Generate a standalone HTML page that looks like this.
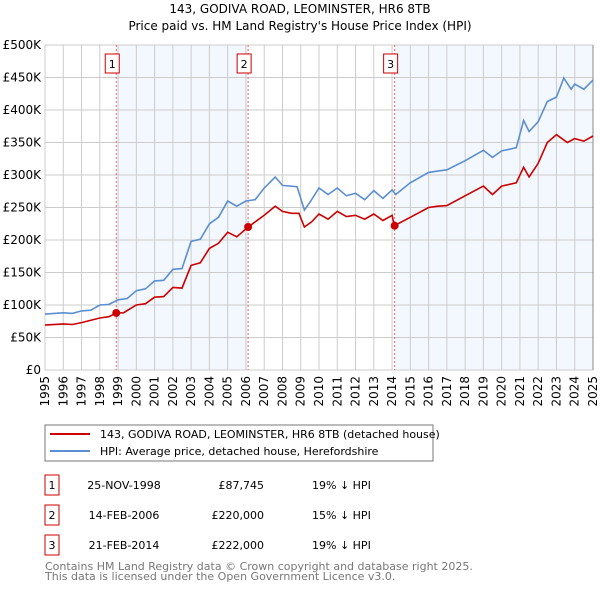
<!DOCTYPE html>
<html><head><meta charset="utf-8"><style>
body{margin:0;background:#fff;font-family:"DejaVu Sans","Liberation Sans",sans-serif;}
svg text{font-family:"DejaVu Sans","Liberation Sans",sans-serif;}
</style></head><body>
<svg id="c" width="600" height="590" viewBox="0 0 600 590" xmlns="http://www.w3.org/2000/svg">
<text x="300" y="13" text-anchor="middle" font-size="12">143, GODIVA ROAD, LEOMINSTER, HR6 8TB</text>
<text x="300" y="30" text-anchor="middle" font-size="12">Price paid vs. HM Land Registry's House Price Index (HPI)</text>
<g id="plot"></g>
<rect x="45" y="425" width="388" height="36" fill="#fff" stroke="#777"/>
<line x1="50" y1="434" x2="90" y2="434" stroke="#cc0000" stroke-width="2"/>
<text x="100" y="438" font-size="11">143, GODIVA ROAD, LEOMINSTER, HR6 8TB (detached house)</text>
<line x1="50" y1="451" x2="90" y2="451" stroke="#5b8fd1" stroke-width="2"/>
<text x="100" y="455" font-size="11">HPI: Average price, detached house, Herefordshire</text>
<g id="tbl" font-size="11"></g>
<text x="45" y="570" font-size="11" fill="#777">Contains HM Land Registry data © Crown copyright and database right 2025.</text>
<text x="45" y="580" font-size="11" fill="#777">This data is licensed under the Open Government Licence v3.0.</text>
</svg>
<script>
const yTicks=[0,50,100,150,200,250,300,350,400,450,500];
const yTickLabels=["£0","£50K","£100K","£150K","£200K","£250K","£300K","£350K","£400K","£450K","£500K"];
const xYears=[1995,1996,1997,1998,1999,2000,2001,2002,2003,2004,2005,2006,2007,2008,2009,2010,2011,2012,2013,2014,2015,2016,2017,2018,2019,2020,2021,2022,2023,2024,2025];
const hpiYears=[1995,1996,1996.5,1997,1997.5,1998,1998.5,1999,1999.5,2000,2000.5,2001,2001.5,2002,2002.5,2003,2003.5,2004,2004.5,2005,2005.5,2006,2006.5,2007,2007.6,2008,2008.8,2009.2,2009.5,2010,2010.5,2011,2011.5,2012,2012.5,2013,2013.5,2014,2014.2,2015,2016,2016.5,2017,2018,2019,2019.5,2020,2020.8,2021.2,2021.5,2022,2022.5,2023,2023.4,2023.8,2024,2024.5,2025];
const hpiValues=[86,88,87,91,92,100,101,108,110,122,125,137,138,155,156,198,201,225,235,260,252,260,262,280,297,284,282,246,258,280,270,280,268,272,262,276,264,277,270,288,304,306,308,322,338,327,337,342,384,367,382,413,420,449,432,440,432,446];
const priceYears=[1995,1996,1996.5,1997,1998,1998.5,1998.9,1999.3,2000,2000.5,2001,2001.5,2002,2002.5,2003,2003.5,2004,2004.5,2005,2005.5,2006.12,2007,2007.6,2008,2008.5,2008.9,2009.2,2009.6,2010,2010.5,2011,2011.5,2012,2012.5,2013,2013.5,2014,2014.13,2015,2016,2016.5,2017,2018,2019,2019.5,2020,2020.8,2021.2,2021.5,2022,2022.5,2023,2023.6,2024,2024.5,2025];
const priceValues=[69,71,70,73,80,82,87.745,88,100,102,112,113,127,126,161,165,187,195,212,205,220,238,252,244,241,241,220,228,240,232,244,236,238,232,240,230,238,222,235,250,252,253,268,283,270,283,288,312,297,318,350,362,350,356,352,360];
const salesX=[1998.9,2006.12,2014.14];
const salesV=[87.745,220,222];
const salesLabels=["1","2","3"];
const salesDates=["25-NOV-1998","14-FEB-2006","21-FEB-2014"];
const salesPrices=["£87,745","£220,000","£222,000"];
const salesDiff=["19% ↓ HPI","15% ↓ HPI","19% ↓ HPI"];

const NS="http://www.w3.org/2000/svg";
const X0=45,X1=593,Y0=370,Y1=45;
const xs=y=>X0+(y-1995)/30*(X1-X0);
const ys=v=>Y0-v/500*(Y0-Y1);
const plot=document.getElementById('plot');
function mk(t,a,p){const e=document.createElementNS(NS,t);for(const k in a)e.setAttribute(k,a[k]);(p||plot).appendChild(e);return e;}
let e;
e=mk('rect',{x:xs(salesX[0]),y:Y1,width:xs(salesX[1])-xs(salesX[0]),height:Y0-Y1,fill:'#eef3fd',opacity:0.7});


e=mk('rect',{x:xs(salesX[2]),y:Y1,width:X1-xs(salesX[2]),height:Y0-Y1,fill:'#eef3fd',opacity:0.7});


yTicks.forEach((v,i)=>{
 e=mk('line',{x1:X0,x2:X1,y1:ys(v),y2:ys(v),stroke:'#ccc'});
 
 
 e=mk('text',{x:X0-4,y:ys(v)+4,'text-anchor':'end','font-size':12});
 e.textContent=yTickLabels[i];
 
 
});
xYears.forEach(y=>{
 e=mk('line',{x1:xs(y),x2:xs(y),y1:Y1,y2:Y0,stroke:'#ccc'});
 
 
 e=mk('text',{x:0,y:0,'font-size':12,'text-anchor':'end',transform:`translate(${xs(y)+4},${Y0+6}) rotate(-90)`});
 e.textContent=y;
 
 
});
e=mk('line',{x1:X1,x2:X1,y1:Y1,y2:Y0,stroke:'#888'});


salesX.forEach((x,i)=>{
 e=mk('line',{x1:xs(x),x2:xs(x),y1:Y1,y2:Y0,stroke:'#ee6666','stroke-dasharray':'2,2'});
 
 
 e=mk('rect',{x:xs(x)-11,y:54,width:14,height:19,fill:'#fff',stroke:'#cc0000'});
 
 
 e=mk('text',{x:xs(x)-4,y:68,'text-anchor':'middle','font-size':11});
 e.textContent=salesLabels[i];
 
 
});
function path(xa,va,col,name){
 let d=xa.map((x,i)=>(i?'L':'M')+xs(x).toFixed(1)+','+ys(va[i]).toFixed(1)).join('');
 e=mk('path',{d:d,fill:'none',stroke:col,'stroke-width':1.6});
 
 
}
path(hpiYears,hpiValues,'#5b8fd1','hpi-line');
path(priceYears,priceValues,'#cc0000','price-line');
salesX.forEach((x,i)=>{
 e=mk('circle',{cx:xs(x),cy:ys(salesV[i]),r:4,fill:'#cc0000'});
 
 
});
const tbl=document.getElementById('tbl');
salesX.forEach((x,i)=>{
 const y0=475+i*30;
 e=mk('rect',{x:45,y:y0,width:14,height:20,fill:'#fff',stroke:'#cc0000'},tbl);
 
 
 const cells=[[52,'middle',salesLabels[i]],[124,'middle',salesDates[i]],[264,'end',salesPrices[i]],[312,'start',salesDiff[i]]];
 cells.forEach(c=>{
  e=mk('text',{x:c[0],y:y0+14,'text-anchor':c[1]},tbl);
  e.textContent=c[2];
  
  
 });
});
</script>
</body></html>
